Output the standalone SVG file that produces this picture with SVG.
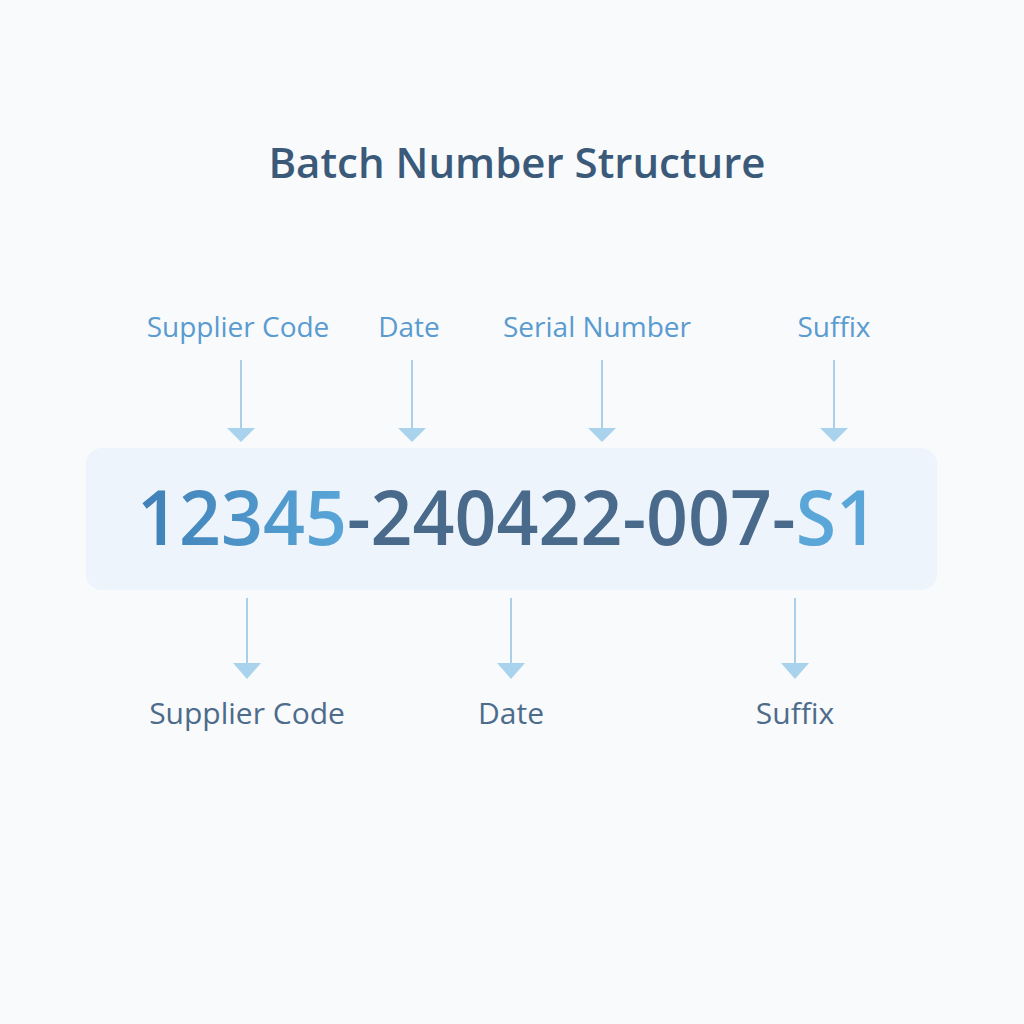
<svg xmlns="http://www.w3.org/2000/svg" width="1024" height="1024" viewBox="0 0 1024 1024">
<defs>
<style>
.title{font-family:"Open Sans","Noto Sans",sans-serif;font-weight:600;font-size:42px;fill:#3b5a7a;text-anchor:middle}
.top{font-family:"Open Sans","Noto Sans",sans-serif;font-size:28px;fill:#5a9bd0;text-anchor:middle}
.bot{font-family:"Open Sans","Noto Sans",sans-serif;font-size:30px;fill:#4d6b8a;text-anchor:middle}
.num{font-family:"Open Sans","Noto Sans",sans-serif;font-weight:600;font-size:76px}
.conn line{stroke:#a9cfe9;stroke-width:2}
.conn polygon{fill:#a9d2ec}
</style>
<linearGradient id="numfill" gradientUnits="userSpaceOnUse" x1="137" y1="0" x2="878" y2="0">
<stop offset="0" stop-color="#3f80b6"/>
<stop offset="0.283" stop-color="#5aa6d8"/>
<stop offset="0.283" stop-color="#4a6a8c"/>
<stop offset="0.892" stop-color="#4a6a8c"/>
<stop offset="0.892" stop-color="#5aa6d8"/>
<stop offset="1" stop-color="#5aa6d8"/>
</linearGradient>
</defs>
<rect width="1024" height="1024" fill="#f8fafc"/>
<g id="title"><text class="title" x="517" y="178">Batch Number Structure</text></g>
<g id="batch-box">
<rect x="86" y="448" width="851" height="142" rx="16" fill="#edf4fb"/>
<text class="num" x="137" y="545" textLength="741" lengthAdjust="spacingAndGlyphs" fill="url(#numfill)">12345-240422-007-S1</text>
</g>
<g id="top-labels">
<text class="top" x="238" y="337">Supplier Code</text>
<text class="top" x="409" y="337">Date</text>
<text class="top" x="597" y="337">Serial Number</text>
<text class="top" x="834" y="337">Suffix</text>
</g>
<g id="bottom-labels">
<text class="bot" x="247" y="724">Supplier Code</text>
<text class="bot" x="511" y="724">Date</text>
<text class="bot" x="795" y="724">Suffix</text>
</g>
<g id="connectors" class="conn">
<line x1="241" y1="360" x2="241" y2="430"/><polygon points="227,428 255,428 241,442"/>
<line x1="412" y1="360" x2="412" y2="430"/><polygon points="398,428 426,428 412,442"/>
<line x1="602" y1="360" x2="602" y2="430"/><polygon points="588,428 616,428 602,442"/>
<line x1="834" y1="360" x2="834" y2="430"/><polygon points="820,428 848,428 834,442"/>
<line x1="247" y1="598" x2="247" y2="665"/><polygon points="233,663 261,663 247,679"/>
<line x1="511" y1="598" x2="511" y2="665"/><polygon points="497,663 525,663 511,679"/>
<line x1="795" y1="598" x2="795" y2="665"/><polygon points="781,663 809,663 795,679"/>
</g>
</svg>
